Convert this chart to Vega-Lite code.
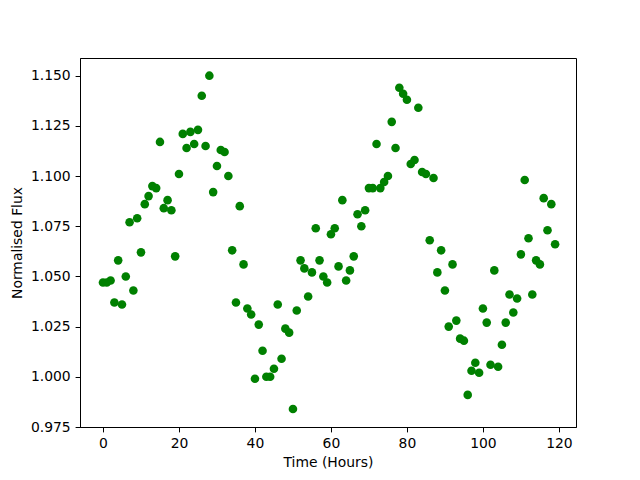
{
  "$schema": "https://vega.github.io/schema/vega-lite/v6.json",
  "width": 496,
  "height": 369,
  "autosize": "none",
  "padding": {"left": 80, "top": 58, "right": 64, "bottom": 53},
  "background": "white",
  "config": {
    "view": {"stroke": "black", "strokeWidth": 1},
    "axis": {
      "labelFont": "DejaVu Sans", "titleFont": "DejaVu Sans",
      "labelFontSize": 13.9, "titleFontSize": 13.9, "titleFontWeight": "normal",
      "labelColor": "black", "titleColor": "black",
      "domainColor": "black", "tickColor": "black", "tickSize": 4.9,
      "grid": false, "labelPadding": 4.9
    }
  },
  "data": {"values": [
    {"t":0,"f":1.047},{"t":1,"f":1.047},{"t":2,"f":1.048},{"t":3,"f":1.037},{"t":4,"f":1.058},
    {"t":5,"f":1.036},{"t":6,"f":1.050},{"t":7,"f":1.077},{"t":8,"f":1.043},{"t":9,"f":1.079},
    {"t":10,"f":1.062},{"t":11,"f":1.086},{"t":12,"f":1.090},{"t":13,"f":1.095},{"t":14,"f":1.094},
    {"t":15,"f":1.117},{"t":16,"f":1.084},{"t":17,"f":1.088},{"t":18,"f":1.083},{"t":19,"f":1.060},
    {"t":20,"f":1.101},{"t":21,"f":1.121},{"t":22,"f":1.114},{"t":23,"f":1.122},{"t":24,"f":1.116},
    {"t":25,"f":1.123},{"t":26,"f":1.140},{"t":27,"f":1.115},{"t":28,"f":1.150},{"t":29,"f":1.092},
    {"t":30,"f":1.105},{"t":31,"f":1.113},{"t":32,"f":1.112},{"t":33,"f":1.100},{"t":34,"f":1.063},
    {"t":35,"f":1.037},{"t":36,"f":1.085},{"t":37,"f":1.056},{"t":38,"f":1.034},{"t":39,"f":1.031},
    {"t":40,"f":0.999},{"t":41,"f":1.026},{"t":42,"f":1.013},{"t":43,"f":1.000},{"t":44,"f":1.000},
    {"t":45,"f":1.004},{"t":46,"f":1.036},{"t":47,"f":1.009},{"t":48,"f":1.024},{"t":49,"f":1.022},
    {"t":50,"f":0.984},{"t":51,"f":1.033},{"t":52,"f":1.058},{"t":53,"f":1.054},{"t":54,"f":1.040},
    {"t":55,"f":1.052},{"t":56,"f":1.074},{"t":57,"f":1.058},{"t":58,"f":1.050},{"t":59,"f":1.047},
    {"t":60,"f":1.071},{"t":61,"f":1.074},{"t":62,"f":1.055},{"t":63,"f":1.088},{"t":64,"f":1.048},
    {"t":65,"f":1.053},{"t":66,"f":1.060},{"t":67,"f":1.081},{"t":68,"f":1.075},{"t":69,"f":1.083},
    {"t":70,"f":1.094},{"t":71,"f":1.094},{"t":72,"f":1.116},{"t":73,"f":1.094},{"t":74,"f":1.097},
    {"t":75,"f":1.100},{"t":76,"f":1.127},{"t":77,"f":1.114},{"t":78,"f":1.144},{"t":79,"f":1.141},
    {"t":80,"f":1.138},{"t":81,"f":1.106},{"t":82,"f":1.108},{"t":83,"f":1.134},{"t":84,"f":1.102},
    {"t":85,"f":1.101},{"t":86,"f":1.068},{"t":87,"f":1.099},{"t":88,"f":1.052},{"t":89,"f":1.063},
    {"t":90,"f":1.043},{"t":91,"f":1.025},{"t":92,"f":1.056},{"t":93,"f":1.028},{"t":94,"f":1.019},
    {"t":95,"f":1.018},{"t":96,"f":0.991},{"t":97,"f":1.003},{"t":98,"f":1.007},{"t":99,"f":1.002},
    {"t":100,"f":1.034},{"t":101,"f":1.027},{"t":102,"f":1.006},{"t":103,"f":1.053},{"t":104,"f":1.005},
    {"t":105,"f":1.016},{"t":106,"f":1.027},{"t":107,"f":1.041},{"t":108,"f":1.032},{"t":109,"f":1.039},
    {"t":110,"f":1.061},{"t":111,"f":1.098},{"t":112,"f":1.069},{"t":113,"f":1.041},{"t":114,"f":1.058},
    {"t":115,"f":1.056},{"t":116,"f":1.089},{"t":117,"f":1.073},{"t":118,"f":1.086},{"t":119,"f":1.066}
  ]},
  "mark": {"type": "point", "filled": true, "shape": "circle", "size": 74, "color": "green", "opacity": 1},
  "encoding": {
    "x": {
      "field": "t", "type": "quantitative", "title": "Time (Hours)",
      "scale": {"domain": [-6.05, 124.5], "nice": false, "zero": false},
      "axis": {"values": [0, 20, 40, 60, 80, 100, 120], "format": "d", "titlePadding": 5}
    },
    "y": {
      "field": "f", "type": "quantitative", "title": "Normalised Flux",
      "scale": {"domain": [0.975, 1.1588], "nice": false, "zero": false},
      "axis": {"values": [0.975, 1.0, 1.025, 1.05, 1.075, 1.1, 1.125, 1.15], "format": ".3f", "titlePadding": 6}
    }
  }
}
